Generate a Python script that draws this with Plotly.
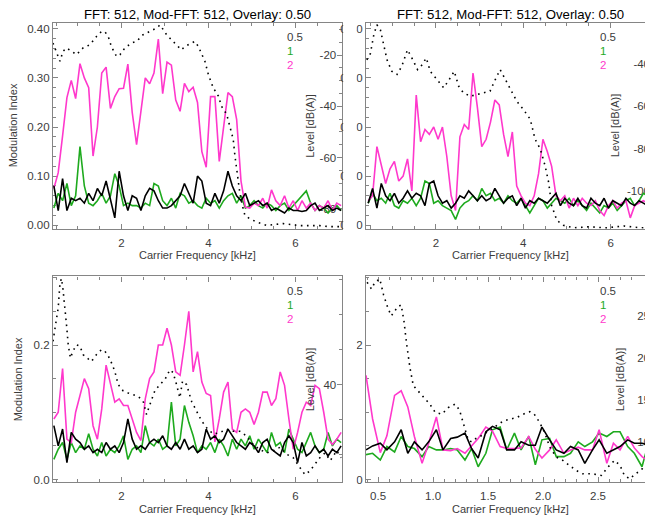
import plotly.graph_objects as go

# ---------------- data ----------------
FREQ = [0.45, 0.55, 0.65, 0.75, 0.85, 0.95, 1.05, 1.15, 1.25, 1.35, 1.45, 1.55, 1.65, 1.75, 1.85, 1.95,
        2.05, 2.15, 2.25, 2.35, 2.45, 2.55, 2.65, 2.75, 2.85, 2.95, 3.05, 3.15, 3.25, 3.35, 3.45, 3.55,
        3.65, 3.75, 3.85, 3.95, 4.05, 4.15, 4.25, 4.35, 4.45, 4.55, 4.65, 4.75, 4.85, 4.95, 5.05, 5.15,
        5.25, 5.35, 5.45, 5.55, 5.65, 5.75, 5.85, 5.95, 6.05, 6.15, 6.25, 6.35, 6.45, 6.55, 6.65, 6.75,
        6.85, 6.95, 7.05]

# top-left panel
TL_05 = [0.08, 0.03, 0.095, 0.03, 0.055, 0.05, 0.055, 0.045, 0.065, 0.05,
         0.075, 0.06, 0.09, 0.05, 0.015, 0.11, 0.06, 0.03, 0.06, 0.055,
         0.03, 0.06, 0.075, 0.07, 0.05, 0.035, 0.035, 0.04, 0.05, 0.06,
         0.085, 0.065, 0.045, 0.10, 0.09, 0.045, 0.04, 0.065, 0.045, 0.07,
         0.11, 0.08, 0.06, 0.05, 0.065, 0.04, 0.045, 0.05, 0.04, 0.045,
         0.03, 0.035, 0.03, 0.025, 0.035, 0.03, 0.03, 0.028, 0.03, 0.04,
         0.045, 0.03, 0.035, 0.04, 0.03, 0.035, 0.03]
TL_1 = [0.035, 0.065, 0.05, 0.085, 0.04, 0.06, 0.16, 0.08, 0.045, 0.04,
        0.05, 0.065, 0.045, 0.06, 0.105, 0.08, 0.04, 0.045, 0.04, 0.04,
        0.035, 0.045, 0.04, 0.085, 0.08, 0.05, 0.04, 0.055, 0.035, 0.065,
        0.06, 0.045, 0.05, 0.04, 0.035, 0.055, 0.045, 0.05, 0.035, 0.05,
        0.06, 0.065, 0.045, 0.06, 0.035, 0.04, 0.05, 0.04, 0.035, 0.045,
        0.04, 0.03, 0.04, 0.045, 0.03, 0.04, 0.05, 0.06, 0.07, 0.045,
        0.03, 0.04, 0.035, 0.025, 0.035, 0.04, 0.03]
TL_2 = [0.075, 0.107, 0.182, 0.26, 0.295, 0.258, 0.329, 0.30, 0.28, 0.141,
        0.20, 0.31, 0.322, 0.238, 0.262, 0.278, 0.279, 0.328, 0.23, 0.164,
        0.232, 0.30, 0.288, 0.31, 0.379, 0.268, 0.332, 0.326, 0.255, 0.232,
        0.289, 0.272, 0.281, 0.25, 0.15, 0.118, 0.262, 0.262, 0.13, 0.205,
        0.27, 0.262, 0.215, 0.09, 0.037, 0.035, 0.045, 0.04, 0.055, 0.035,
        0.072, 0.05, 0.04, 0.06, 0.035, 0.05, 0.03, 0.05, 0.035, 0.045,
        0.03, 0.04, 0.035, 0.05, 0.03, 0.045, 0.04]
TL_LEVEL_F = [0.43, 0.51, 0.59, 0.66, 0.74, 0.86, 0.97, 1.12, 1.28, 1.43, 1.54, 1.62, 1.70, 1.77, 1.89,
              1.97, 2.08, 2.23, 2.35, 2.50, 2.66, 2.81, 2.89, 2.96, 3.04, 3.15, 3.27, 3.38, 3.46, 3.61,
              3.69, 3.77, 3.85, 3.92, 4.00, 4.11, 4.23, 4.30, 4.42, 4.49, 4.57, 4.61, 4.67, 4.72, 4.78,
              4.84, 4.95, 5.11, 5.34, 5.72, 6.10, 6.56, 6.79, 7.05]
TL_LEVEL_DB = [-15.3, -19.1, -22.4, -18.5, -17.2, -18.5, -19.8, -17.2, -15.9, -12.7, -10.8, -10.8, -12.7,
               -16.6, -20.5, -19.8, -17.2, -15.3, -14.6, -12.0, -10.8, -9.4, -8.2, -10.1, -12.0, -14.0,
               -15.9, -17.9, -16.6, -15.3, -14.6, -16.6, -19.8, -22.4, -27.6, -32.7, -36.0, -39.9, -43.1,
               -47.6, -52.8, -59.3, -67.1, -73.5, -78.7, -82.6, -83.9, -85.2, -86.5, -85.8, -86.6, -86.6,
               -87.0, -87.0]

# top-right panel
TR_05 = [0.045, 0.075, 0.035, 0.085, 0.06, 0.05, 0.065, 0.045, 0.055, 0.07,
         0.055, 0.065, 0.06, 0.04, 0.085, 0.09, 0.06, 0.045, 0.05, 0.035,
         0.045, 0.06, 0.055, 0.07, 0.06, 0.05, 0.06, 0.05, 0.055, 0.075,
         0.06, 0.045, 0.055, 0.06, 0.04, 0.055, 0.035, 0.05, 0.045, 0.055,
         0.05, 0.045, 0.055, 0.065, 0.04, 0.055, 0.045, 0.04, 0.055, 0.04,
         0.035, 0.055, 0.045, 0.04, 0.055, 0.035, 0.05, 0.045, 0.04, 0.055,
         0.045, 0.04, 0.05, 0.045, 0.04, 0.05, 0.045]
TR_1 = [0.045, 0.065, 0.05, 0.055, 0.045, 0.065, 0.04, 0.035, 0.05, 0.045,
        0.055, 0.04, 0.055, 0.09, 0.085, 0.045, 0.05, 0.04, 0.035, 0.03,
        0.012, 0.035, 0.045, 0.05, 0.06, 0.05, 0.075, 0.06, 0.065, 0.05,
        0.055, 0.045, 0.06, 0.05, 0.045, 0.055, 0.04, 0.025, 0.04, 0.055,
        0.05, 0.035, 0.045, 0.055, 0.05, 0.045, 0.055, 0.04, 0.05, 0.04,
        0.03, 0.045, 0.035, 0.025, 0.04, 0.035, 0.045, 0.03, 0.04, 0.05,
        0.055, 0.04, 0.05, 0.065, 0.06, 0.045, 0.06]
TR_2 = [0.05, 0.06, 0.16, 0.12, 0.085, 0.115, 0.13, 0.09, 0.10, 0.135,
        0.07, 0.265, 0.17, 0.195, 0.185, 0.20, 0.175, 0.20, 0.14, 0.06,
        0.03, 0.18, 0.205, 0.195, 0.31, 0.24, 0.16, 0.175, 0.21, 0.255,
        0.245, 0.185, 0.14, 0.19, 0.08, 0.06, 0.045, 0.04, 0.06, 0.105,
        0.175, 0.15, 0.12, 0.06, 0.05, 0.06, 0.035, 0.055, 0.04, 0.055,
        0.045, 0.04, 0.05, 0.03, 0.02, 0.04, 0.05, 0.035, 0.045, 0.05,
        0.015, 0.04, 0.045, 0.05, 0.045, 0.05, 0.04]
TR_LEVEL_F = [0.42, 0.50, 0.58, 0.65, 0.73, 0.80, 0.88, 0.99, 1.11, 1.22, 1.35, 1.47, 1.58, 1.66, 1.78,
              1.87, 2.02, 2.18, 2.33, 2.42, 2.52, 2.63, 2.79, 2.94, 3.09, 3.24, 3.36, 3.47, 3.55, 3.70,
              3.85, 4.00, 4.16, 4.27, 4.39, 4.50, 4.58, 4.65, 4.77, 4.92, 5.15, 5.50, 5.90, 6.30, 6.70,
              7.00]
TR_LEVEL_DB = [-38.0, -35.0, -26.0, -21.4, -23.8, -30.0, -37.9, -43.4, -44.9, -41.0, -33.2, -37.9, -42.6,
               -41.0, -37.1, -43.4, -47.3, -51.2, -46.5, -43.4, -50.4, -53.6, -55.2, -54.4, -53.6, -52.8,
               -47.3, -42.6, -45.7, -52.0, -57.5, -61.4, -66.1, -75.5, -80.2, -88.1, -95.9, -106.9,
               -114.0, -116.3, -117.5, -117.0, -117.5, -116.6, -117.5, -117.0]

# bottom-left panel
BL_05 = [0.08, 0.05, 0.075, 0.025, 0.07, 0.06, 0.055, 0.045, 0.05, 0.04,
         0.045, 0.04, 0.055, 0.045, 0.05, 0.04, 0.055, 0.09, 0.06, 0.045,
         0.05, 0.045, 0.055, 0.06, 0.055, 0.065, 0.05, 0.045, 0.055, 0.045,
         0.06, 0.045, 0.05, 0.04, 0.045, 0.075, 0.06, 0.065, 0.055, 0.06,
         0.075, 0.065, 0.055, 0.05, 0.045, 0.055, 0.05, 0.04, 0.055, 0.06,
         0.045, 0.04, 0.035, 0.055, 0.065, 0.055, 0.025, 0.055, 0.035, 0.04,
         0.05, 0.04, 0.045, 0.035, 0.045, 0.04, 0.05]
BL_1 = [0.03, 0.045, 0.055, 0.03, 0.055, 0.04, 0.05, 0.045, 0.068, 0.045,
        0.035, 0.055, 0.035, 0.045, 0.04, 0.05, 0.065, 0.03, 0.045, 0.05,
        0.04, 0.08, 0.055, 0.05, 0.06, 0.045, 0.05, 0.115, 0.05, 0.06,
        0.11, 0.085, 0.065, 0.04, 0.05, 0.045, 0.055, 0.04, 0.06, 0.05,
        0.035, 0.06, 0.045, 0.06, 0.05, 0.065, 0.045, 0.06, 0.05, 0.04,
        0.07, 0.05, 0.055, 0.04, 0.075, 0.06, 0.045, 0.04, 0.055, 0.07,
        0.05, 0.04, 0.045, 0.07, 0.05, 0.06, 0.055]
BL_2 = [0.09, 0.10, 0.165, 0.06, 0.055, 0.10, 0.125, 0.15, 0.135, 0.08,
        0.06, 0.105, 0.17, 0.14, 0.115, 0.12, 0.11, 0.11, 0.09, 0.07,
        0.058, 0.12, 0.15, 0.16, 0.20, 0.20, 0.225, 0.20, 0.16, 0.155,
        0.20, 0.25, 0.16, 0.19, 0.145, 0.128, 0.125, 0.056, 0.09, 0.13,
        0.145, 0.075, 0.07, 0.10, 0.105, 0.10, 0.082, 0.10, 0.13, 0.13,
        0.11, 0.12, 0.16, 0.14, 0.09, 0.045, 0.07, 0.10, 0.115, 0.11,
        0.14, 0.135, 0.10, 0.06, 0.052, 0.06, 0.07]
BL_LEVEL_F = [0.43, 0.55, 0.59, 0.625, 0.66, 0.70, 0.74, 0.78, 0.83, 0.89, 0.97, 1.05, 1.12, 1.215, 1.31,
              1.43, 1.544, 1.62, 1.70, 1.774, 1.85, 1.927, 2.04, 2.157, 2.27, 2.387, 2.502, 2.579, 2.656,
              2.77, 2.885, 3.0, 3.115, 3.19, 3.268, 3.345, 3.406, 3.50, 3.613, 3.73, 3.843, 3.96, 4.111,
              4.26, 4.418, 4.57, 4.724, 4.88, 5.03, 5.18, 5.337, 5.49, 5.644, 5.80, 5.95, 6.103, 6.218,
              6.33, 6.448, 6.56, 6.68, 6.80, 6.95, 7.05]
BL_LEVEL_DB = [46.2, 51.0, 54.5, 55.2, 53.6, 51.4, 48.6, 45.7, 43.8, 44.8, 45.7, 45.5, 44.3, 43.8, 43.3,
               44.3, 45.0, 44.8, 44.1, 43.1, 41.9, 40.0, 39.1, 38.8, 38.6, 38.3, 37.6, 35.7, 37.1, 39.1,
               40.0, 40.7, 42.1, 41.7, 40.0, 38.1, 40.5, 40.0, 37.6, 36.2, 34.8, 33.8, 32.9, 33.1, 33.6,
               33.3, 33.3, 32.6, 31.4, 30.7, 30.2, 30.5, 31.0, 30.0, 29.5, 28.1, 27.1, 27.6, 28.6, 29.5,
               30.2, 29.1, 30.5, 29.5]

# bottom-right panel (finer frequency resolution)
FREQ_BR = [0.39, 0.45, 0.52, 0.58, 0.65, 0.71, 0.77, 0.83, 0.90, 0.96, 1.03, 1.09, 1.16, 1.22, 1.29,
           1.35, 1.41, 1.48, 1.54, 1.61, 1.67, 1.74, 1.80, 1.87, 1.93, 1.99, 2.06, 2.12, 2.19, 2.25,
           2.32, 2.38, 2.45, 2.51, 2.58, 2.64, 2.70, 2.77, 2.83, 2.90, 2.96, 3.02]
BR_05 = [0.044, 0.05, 0.054, 0.044, 0.056, 0.074, 0.039, 0.056, 0.044, 0.056,
         0.074, 0.044, 0.061, 0.063, 0.069, 0.046, 0.032, 0.071, 0.079, 0.074,
         0.044, 0.044, 0.056, 0.051, 0.051, 0.078, 0.059, 0.044, 0.039, 0.049,
         0.044, 0.024, 0.044, 0.059, 0.039, 0.044, 0.049, 0.059, 0.054, 0.054,
         0.051, 0.046]
BR_1 = [0.037, 0.039, 0.029, 0.049, 0.041, 0.064, 0.049, 0.046, 0.034, 0.049,
        0.044, 0.044, 0.046, 0.044, 0.029, 0.046, 0.019, 0.039, 0.074, 0.078,
        0.044, 0.069, 0.044, 0.064, 0.022, 0.059, 0.061, 0.034, 0.034, 0.039,
        0.056, 0.049, 0.056, 0.069, 0.064, 0.071, 0.071, 0.049, 0.039, 0.019,
        0.055, 0.034]
BR_2 = [0.155, 0.09, 0.04, 0.065, 0.125, 0.132, 0.108, 0.064, 0.024, 0.054,
        0.093, 0.044, 0.043, 0.046, 0.039, 0.05, 0.061, 0.078, 0.072, 0.049,
        0.046, 0.046, 0.047, 0.064, 0.045, 0.032, 0.044, 0.059, 0.039, 0.044,
        0.048, 0.044, 0.044, 0.074, 0.024, 0.054, 0.044, 0.064, 0.047, 0.034,
        0.027, 0.025]
BR_LEVEL_F = [0.40, 0.44, 0.47, 0.515, 0.55, 0.59, 0.62, 0.65, 0.68, 0.71, 0.735, 0.76, 0.79, 0.82, 0.86,
              0.91, 0.97, 1.02, 1.08, 1.14, 1.20, 1.24, 1.28, 1.32, 1.35, 1.39, 1.45, 1.52, 1.58, 1.64,
              1.70, 1.76, 1.82, 1.88, 1.92, 1.97, 2.02, 2.06, 2.12, 2.18, 2.24, 2.30, 2.36, 2.45, 2.53,
              2.59, 2.65, 2.70, 2.74, 2.79, 2.84, 2.89, 2.94, 2.99]
BR_LEVEL_DB = [29.0, 28.2, 29.0, 29.4, 27.5, 25.9, 25.0, 25.5, 26.1, 26.3, 24.4, 21.6, 18.8, 16.7, 16.1,
               15.3, 14.5, 13.5, 13.3, 14.1, 14.5, 13.8, 12.1, 10.2, 10.0, 10.4, 10.8, 11.4, 12.0, 12.5,
               12.7, 12.9, 13.3, 13.6, 13.3, 12.3, 10.95, 9.4, 8.2, 7.8, 7.2, 6.6, 6.2, 6.2, 6.0,
               7.0, 7.8, 7.2, 6.0, 5.6, 6.2, 6.6, 7.4, 6.6]

# tick labels of the level (right) axes
TL_LEVEL_TICKS = [-80, -60, -40, -20]
TR_LEVEL_TICKS = [-100, -80, -60, -40]
BL_LEVEL_TICKS = [40]
BR_LEVEL_TICKS = [10, 15, 20, 25]

LEGEND_LABELS = ["0.5", "1", "2"]
TITLE = "FFT: 512, Mod-FFT: 512, Overlay: 0.50"
X_TITLE = "Carrier Frequency [kHz]"
Y_TITLE = "Modulation Index"
Y2_TITLE = "Level [dB(A)]"

for a, b in [(FREQ, TL_05), (FREQ, TL_1), (FREQ, TL_2), (FREQ, TR_05), (FREQ, TR_1), (FREQ, TR_2),
             (FREQ, BL_05), (FREQ, BL_1), (FREQ, BL_2), (FREQ_BR, BR_05), (FREQ_BR, BR_1), (FREQ_BR, BR_2),
             (TL_LEVEL_F, TL_LEVEL_DB), (TR_LEVEL_F, TR_LEVEL_DB), (BL_LEVEL_F, BL_LEVEL_DB),
             (BR_LEVEL_F, BR_LEVEL_DB)]:
    assert len(a) == len(b), (len(a), len(b))

# ---------------- style ----------------
OFF = 8                     # the page body has an 8px margin
W, H = 653 - OFF, 519 - OFF
FONT = "Liberation Sans, Arial, sans-serif"
AX = "#858585"
TXT = "#3c3c3c"
C05, C1, C2 = "#000000", "#1eaa1e", "#ff38cc"
LEG_COLORS = ["#3c3c3c", C1, C2]


def fx(p):
    return (p - OFF) / W


def fy(p):
    return 1 - (p - OFF) / H


panels = [
    dict(n=1, xpx=(53, 342), ypx=(23, 230), xr=[0.43, 7.07], yr=[-0.007, 0.412], ydt=0.1, yfmt=".2f", ymin=0.02,
         lr=[-87.8, -7.4], lt=TL_LEVEL_TICKS, lminor=5, xdt=2, xfmt="d", xminor=0.5, right_visible=True,
         f=FREQ, s05=TL_05, s1=TL_1, s2=TL_2, lf=TL_LEVEL_F, ldb=TL_LEVEL_DB, title=True,
         ytitle_x=12.5, ltitle_x=310),
    dict(n=2, xpx=(366, 653), ypx=(23, 230), xr=[0.40, 6.97], yr=[-0.007, 0.412], ydt=0.1, yfmt=".2f", ymin=0.02,
         lr=[-117.9, -20.5], lt=TR_LEVEL_TICKS, lminor=5, xdt=2, xfmt="d", xminor=0.5, right_visible=False,
         f=FREQ, s05=TR_05, s1=TR_1, s2=TR_2, lf=TR_LEVEL_F, ldb=TR_LEVEL_DB, title=True,
         ytitle_x=None, ltitle_x=614.5),
    dict(n=3, xpx=(53, 342), ypx=(278, 485), xr=[0.43, 7.07], yr=[-0.004, 0.302], ydt=0.2, yfmt=".1f", ymin=0.05,
         lr=[26.0, 55.5], lt=BL_LEVEL_TICKS, lminor=5, xdt=2, xfmt="d", xminor=0.5, right_visible=True,
         f=FREQ, s05=BL_05, s1=BL_1, s2=BL_2, lf=BL_LEVEL_F, ldb=BL_LEVEL_DB, title=False,
         ytitle_x=18, ltitle_x=310),
    dict(n=4, xpx=(366, 653), ypx=(278, 485), xr=[0.39, 3.0], yr=[-0.004, 0.302], ydt=0.2, yfmt=".1f", ymin=0.05,
         lr=[5.2, 29.7], lt=BR_LEVEL_TICKS, lminor=5, xdt=0.5, xfmt=".1f", xminor=0.1, right_visible=False,
         f=FREQ_BR, s05=BR_05, s1=BR_1, s2=BR_2, lf=BR_LEVEL_F, ldb=BR_LEVEL_DB, title=False,
         ytitle_x=None, ltitle_x=620),
]

tickfont = dict(family=FONT, size=11.5, color=TXT)
fig = go.Figure()
layout = dict(width=W, height=H, margin=dict(l=0, r=0, t=0, b=0), showlegend=False,
              paper_bgcolor="white", plot_bgcolor="white", font=dict(family=FONT, color=TXT))
annotations = []
shapes = []

for p in panels:
    n = p["n"]
    xn = "x" if n == 1 else f"x{n}"
    yn = "y" if n == 1 else f"y{n}"
    rn = f"y{n + 4}"
    xkey = "xaxis" if n == 1 else f"xaxis{n}"
    ykey = "yaxis" if n == 1 else f"yaxis{n}"
    rkey = f"yaxis{n + 4}"
    x0, x1 = p["xpx"]
    yt, yb = p["ypx"]

    layout[xkey] = dict(domain=[fx(x0), min(1.0, fx(x1))], range=p["xr"], anchor=yn, showline=True,
                        linecolor=AX, linewidth=1.2, mirror="ticks", ticks="inside", ticklen=5, tickwidth=1,
                        tickcolor=AX, tick0=0, dtick=p["xdt"], tickformat=p["xfmt"], showgrid=False,
                        zeroline=False,
                        minor=dict(ticks="inside", ticklen=3, tickcolor=AX, dtick=p["xminor"], tick0=0),
                        tickfont=tickfont, layer="below traces", ticklabelstandoff=3)
    layout[ykey] = dict(domain=[fy(yb), fy(yt)], range=p["yr"], anchor=xn, side="left", showline=True,
                        linecolor=AX, linewidth=1.2, ticks="inside", ticklen=5, tickwidth=1, tickcolor=AX,
                        tick0=0, dtick=p["ydt"], tickformat=p["yfmt"], showgrid=False, zeroline=False,
                        minor=dict(ticks="inside", ticklen=3, tickcolor=AX, dtick=p["ymin"], tick0=0),
                        tickfont=tickfont, layer="below traces")
    rdict = dict(overlaying=yn, anchor=xn, side="right", range=p["lr"], tickmode="array",
                 tickvals=p["lt"], ticktext=[str(v) for v in p["lt"]], ticklabelposition="inside",
                 showgrid=False, zeroline=False, tickfont=tickfont, layer="below traces")
    if p["right_visible"]:
        rdict.update(showline=True, linecolor=AX, linewidth=1.2, ticks="inside", ticklen=5, tickwidth=1,
                     tickcolor=AX,
                     minor=dict(ticks="inside", ticklen=3, tickcolor=AX, dtick=p["lminor"], tick0=0))
    else:
        rdict.update(showline=False, ticks="")
    layout[rkey] = rdict

    for ser, col in [(p["s1"], C1), (p["s2"], C2), (p["s05"], C05)]:
        fig.add_trace(go.Scatter(x=p["f"], y=ser, mode="lines", xaxis=xn, yaxis=yn,
                                 line=dict(color=col, width=1.6), hoverinfo="skip"))
    fig.add_trace(go.Scatter(x=p["lf"], y=p["ldb"], mode="lines", xaxis=xn, yaxis=rn,
                             line=dict(color="black", width=1.6, dash="1.6px,4.5px"), hoverinfo="skip"))

    cx = (x0 + (x1 if n in (1, 3) else 655)) / 2
    if p["title"]:
        annotations.append(dict(text=TITLE, x=fx(cx), y=fy(15), xref="paper", yref="paper", showarrow=False,
                                xanchor="center", yanchor="middle", font=dict(size=13.2, color="black")))
    annotations.append(dict(text=X_TITLE, x=fx(cx), y=fy(yb + 26.5), xref="paper", yref="paper",
                            showarrow=False, xanchor="center", yanchor="middle",
                            font=dict(size=11, color=TXT)))
    ymid = (yt + yb) / 2
    if p["ytitle_x"] is not None:
        annotations.append(dict(text=Y_TITLE, x=fx(p["ytitle_x"]), y=fy(ymid), xref="paper", yref="paper",
                                showarrow=False, xanchor="center", yanchor="middle", textangle=-90,
                                font=dict(size=11, color=TXT)))
    annotations.append(dict(text=Y2_TITLE, x=fx(p["ltitle_x"]), y=fy(ymid), xref="paper", yref="paper",
                            showarrow=False, xanchor="center", yanchor="middle", textangle=-90,
                            font=dict(size=11, color=TXT)))
    for i, (lab, col) in enumerate(zip(LEGEND_LABELS, LEG_COLORS)):
        annotations.append(dict(text=lab, x=fx(x0 + 232), y=fy(yt + 14.5 + 14 * i), xref="paper",
                                yref="paper", showarrow=False, xanchor="left", yanchor="middle",
                                font=dict(size=11.5, color=col)))

# the left panels hide most of the right panels' left tick labels
for (yt, yb) in [(15, 240), (270, 492)]:
    shapes.append(dict(type="rect", xref="paper", yref="paper", x0=fx(343.2), x1=fx(356.5),
                       y0=fy(yb), y1=fy(yt), fillcolor="white", line=dict(width=0), layer="above"))

layout["annotations"] = annotations
layout["shapes"] = shapes
fig.update_layout(**layout)
fig.write_html("out.html", config={"displayModeBar": False})
